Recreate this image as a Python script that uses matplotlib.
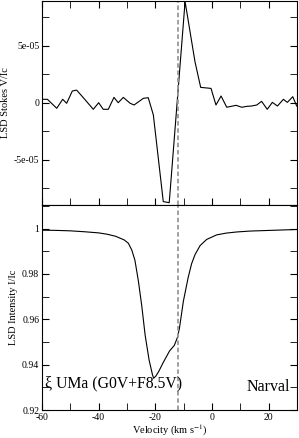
import matplotlib
matplotlib.use('Agg')
import matplotlib.pyplot as plt
from matplotlib.ticker import MultipleLocator, FuncFormatter

plt.rcParams['font.family'] = ['Liberation Serif', 'DejaVu Serif']
plt.rcParams['mathtext.fontset'] = 'stix'
plt.rcParams['axes.unicode_minus'] = False

# Stokes V profile (velocity in km/s, V/Ic)
v_vel = [-60.0, -58.1, -54.8, -52.7, -51.3, -49.3, -47.8, -45.8, -43.9, -41.9,
         -40.0, -38.4, -36.6, -34.6, -33.1, -31.3, -28.9, -27.5, -24.2, -22.5,
         -20.7, -17.2, -15.1, -9.5, -6.0, -4.0, -0.35, 1.4, 3.2, 5.2,
         8.5, 10.5, 12.3, 14.0, 15.8, 17.5, 19.5, 21.3, 23.1, 25.2,
         26.6, 28.5, 29.9]
stokes_v = [3.0e-6, 3.0e-6, -4.9e-6, 3.0e-6, -0.5e-6, 10.3e-6, 11.1e-6, 5.5e-6, 0.0e-6, -5.8e-6,
            0.0e-6, -5.8e-6, -5.8e-6, 4.7e-6, 0.0e-6, 4.7e-6, -0.5e-6, -2.0e-6, 3.9e-6, 4.4e-6,
            -1.08e-5, -8.7e-5, -8.8e-5, 8.9e-5, 3.6e-5, 1.35e-5, 1.26e-5, -2.0e-6, 5.9e-6, -4.0e-6,
            -2.3e-6, -4.0e-6, -3.2e-6, -2.9e-6, -2.0e-6, 1.2e-6, -5.8e-6, 0.3e-6, -2.9e-6, 3.0e-6,
            0.3e-6, 5.3e-6, -2.9e-6]

# Stokes I profile
i_vel = [-60, -55, -50, -45, -40, -37, -34, -31, -29.5, -28.3,
         -27.2, -26.0, -24.8, -23.6, -22.2, -21.0, -20.6, -19.8, -18.8, -17.2,
         -15.0, -13.3, -12.2, -11.5, -10.1, -8.4, -7.2, -6.0, -4.2, -1.9,
         1.6, 5, 8.7, 13.4, 20.5, 30]
stokes_i = [0.9993, 0.9992, 0.9990, 0.9986, 0.9981, 0.9975, 0.9966, 0.9950, 0.9935, 0.9905,
            0.9860, 0.9770, 0.9660, 0.9530, 0.9420, 0.9355, 0.9340, 0.9350, 0.9370, 0.9410,
            0.9460, 0.9485, 0.9520, 0.9560, 0.9680, 0.9785, 0.9845, 0.9885, 0.9925, 0.9952,
            0.9972, 0.9980, 0.9985, 0.9989, 0.9992, 0.9996]

v_rad = -12.0

fig = plt.figure(figsize=(2.99, 4.38), dpi=100)
ax1 = fig.add_axes([0.1405, 0.532, 0.8528, 0.4657])
ax2 = fig.add_axes([0.1405, 0.0639, 0.8528, 0.4681])

fmt = FuncFormatter(lambda x, p: '%g' % x)

ax1.plot(v_vel, stokes_v, color='black', lw=0.8)
ax1.axvline(v_rad, color='#999999', ls=(0, (2.5, 1.5)), lw=1.3)
ax1.set_xlim(-60, 30)
ax1.set_ylim(-9e-5, 8.95e-5)
ax1.yaxis.set_major_locator(MultipleLocator(5e-5))
ax1.yaxis.set_minor_locator(MultipleLocator(2.5e-5))
ax1.yaxis.set_major_formatter(fmt)
ax1.xaxis.set_major_locator(MultipleLocator(20))
ax1.xaxis.set_minor_locator(MultipleLocator(10))
ax1.tick_params(which='both', direction='in', top=True, right=True, labelbottom=False,
                labelsize=7, length=5, pad=2)
ax1.set_ylabel('LSD Stokes V/Ic', fontsize=7.5, labelpad=3)

ax2.plot(i_vel, stokes_i, color='black', lw=0.8)
ax2.axvline(v_rad, color='#999999', ls=(0, (2.5, 1.5)), lw=1.3)
ax2.set_xlim(-60, 30)
ax2.set_ylim(0.92, 1.0104)
ax2.yaxis.set_major_locator(MultipleLocator(0.02))
ax2.yaxis.set_minor_locator(MultipleLocator(0.01))
ax2.yaxis.set_major_formatter(fmt)
ax2.xaxis.set_major_locator(MultipleLocator(20))
ax2.xaxis.set_minor_locator(MultipleLocator(10))
ax2.xaxis.set_major_formatter(fmt)
ax2.tick_params(which='both', direction='in', top=False, right=True,
                labelsize=7, length=5, pad=2)
ax2.set_ylabel('LSD Intensity I/Ic', fontsize=7.5, labelpad=3)
ax2.set_xlabel('Velocity (km s$^{-1}$)', fontsize=7.5, labelpad=0.5)

ax2.text(-58.9, 0.9317, '\u03be UMa (G0V+F8.5V)', fontsize=11.3, ha='left', va='center')
ax2.text(27.5, 0.9300, 'Narval', fontsize=11.5, ha='right', va='center')

fig.savefig('out.png', dpi=100)
